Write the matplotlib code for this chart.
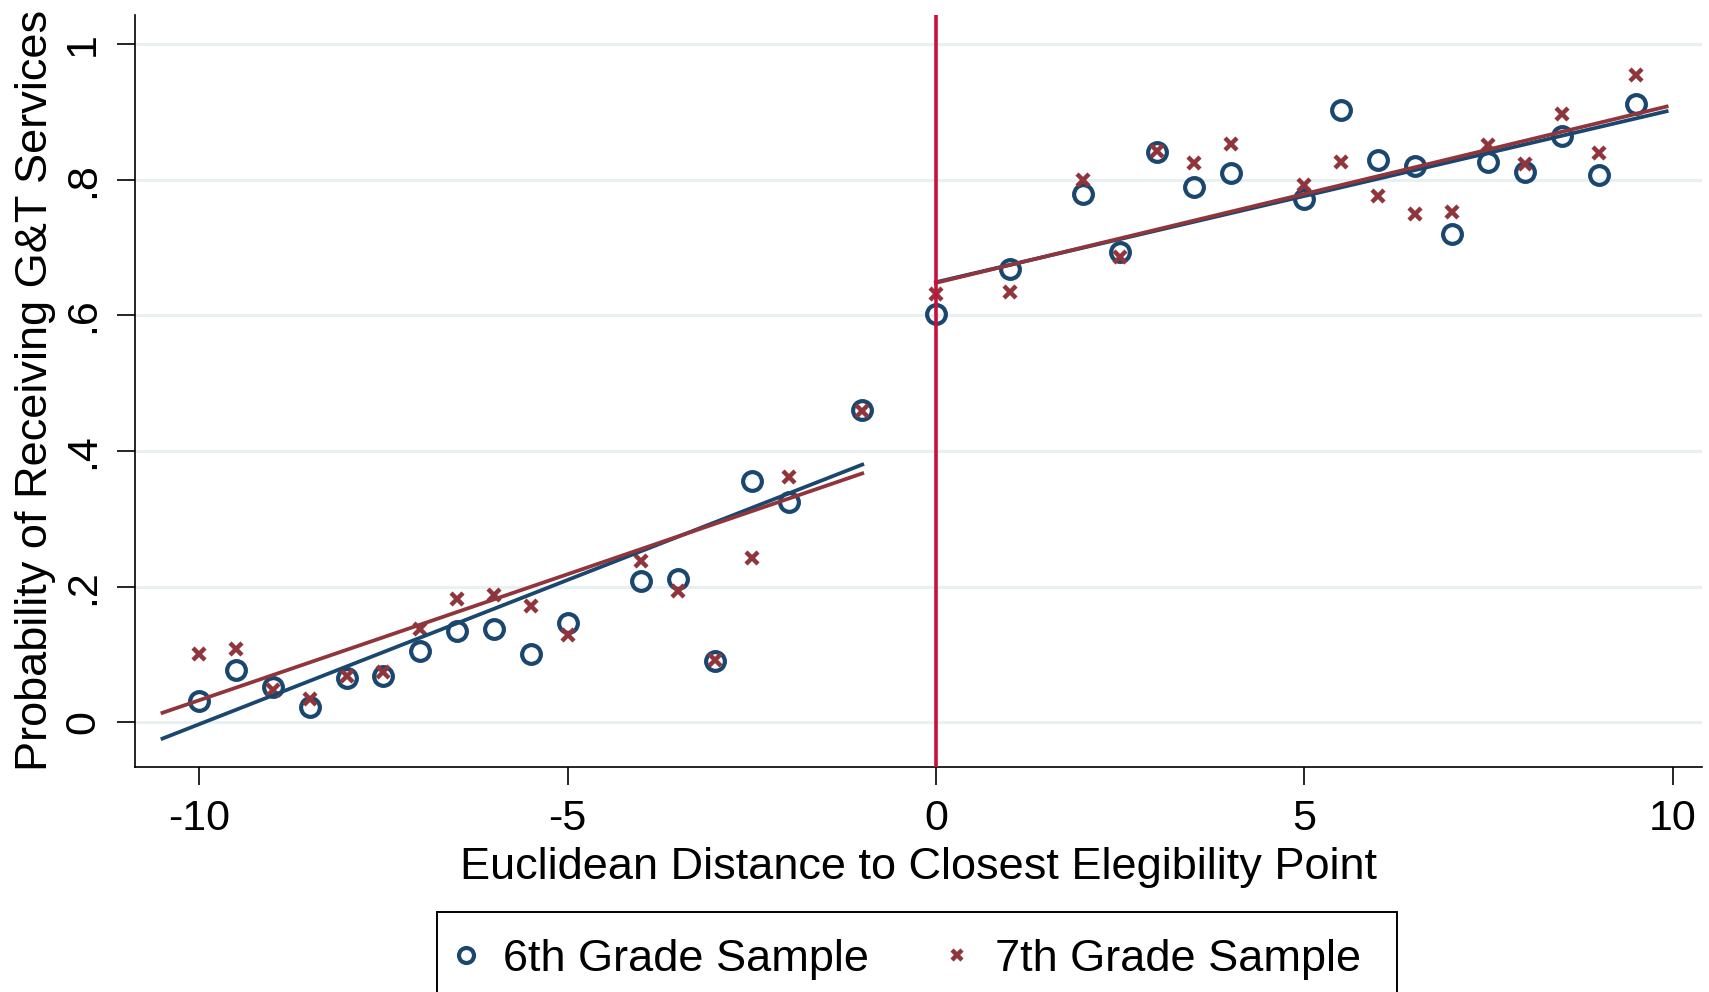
import numpy as np
import matplotlib.pyplot as plt
from matplotlib.patches import Rectangle

plt.rcParams['font.family'] = ['Liberation Sans', 'DejaVu Sans']

# binned means by distance to the cutoff
dist6 = [-10, -9.5, -9, -8.5, -8, -7.5, -7, -6.5, -6, -5.5, -5, -4, -3.5, -3, -2.5, -2, -1,
         0, 1, 2, 2.5, 3, 3.5, 4, 5, 5.5, 6, 6.5, 7, 7.5, 8, 8.5, 9, 9.5]
prob6 = [0.032, 0.077, 0.052, 0.023, 0.066, 0.068, 0.105, 0.135, 0.138, 0.100, 0.147,
         0.209, 0.211, 0.090, 0.356, 0.325, 0.461,
         0.602, 0.668, 0.779, 0.694, 0.841, 0.789, 0.810, 0.771, 0.903, 0.829, 0.821,
         0.720, 0.826, 0.812, 0.865, 0.807, 0.911]

dist7 = dist6
prob7 = [0.101, 0.108, 0.048, 0.035, 0.068, 0.074, 0.137, 0.182, 0.188, 0.171, 0.129,
         0.238, 0.193, 0.092, 0.242, 0.362, 0.459,
         0.631, 0.634, 0.799, 0.686, 0.842, 0.824, 0.853, 0.792, 0.826, 0.776, 0.750,
         0.752, 0.852, 0.823, 0.897, 0.839, 0.955]

# linear fits on each side of the cutoff (end points)
fit_x_left = [-10.5, -1.0]
fit_x_right = [0.0, 9.92]
fit6_left = [-0.024, 0.380]
fit7_left = [0.014, 0.367]
fit6_right = [0.649, 0.901]
fit7_right = [0.648, 0.908]

navy = '#1a476f'
maroon = '#90353b'
cutoff_red = '#c8103c'

fig = plt.figure(figsize=(17.09, 9.92), dpi=100)
ax = fig.add_axes([0.079, 0.2271, 0.9169, 0.7578])

ax.set_xlim(-10.873, 10.40)
ax.set_ylim(-0.0655, 1.043)

yticks = [0, 0.2, 0.4, 0.6, 0.8, 1]
for yt in yticks:
    ax.axhline(yt, color='#e8f0f2', lw=2.2, zorder=0)

ax.plot(dist6, prob6, 'o', mfc='none', mec=navy, ms=13.5, mew=3.0, zorder=3,
        label='6th Grade Sample')
ax.plot(dist7, prob7, 'x', color=maroon, ms=9, mew=3.2, zorder=3,
        label='7th Grade Sample')

ax.plot(fit_x_left, fit6_left, '-', color=navy, lw=2.7, zorder=4)
ax.plot(fit_x_left, fit7_left, '-', color=maroon, lw=2.7, zorder=4)
ax.plot(fit_x_right, fit6_right, '-', color=navy, lw=2.7, zorder=4)
ax.plot(fit_x_right, fit7_right, '-', color=maroon, lw=2.7, zorder=4)

ax.axvline(0, color=cutoff_red, lw=2.6, zorder=5)

for s in ['top', 'right']:
    ax.spines[s].set_visible(False)
for s in ['left', 'bottom']:
    ax.spines[s].set_linewidth(1.2)

ax.set_xticks([-10, -5, 0, 5, 10])
ax.set_xticklabels(['-10', '-5', '0', '5', '10'])
ax.set_yticks(yticks)
ax.set_yticklabels(['0', '.2', '.4', '.6', '.8', '1'], rotation=90, va='center')
ax.tick_params(axis='both', length=13, width=1.2, labelsize=31)
ax.tick_params(axis='x', pad=10)
ax.tick_params(axis='y', pad=10)

ax.set_xlabel('Euclidean Distance to Closest Elegibility Point', fontsize=32.5, labelpad=6)
ax.set_ylabel('Probability of Receiving G&T Services', fontsize=32.5, labelpad=5)

# legend box runs off the bottom edge, so draw the frame separately
fig.patches.append(Rectangle((0.2557, -0.05), 0.5617, 0.1306, transform=fig.transFigure,
                             fill=False, edgecolor='black', lw=1.4))
leg = fig.legend(loc='center left', bbox_to_anchor=(0.2637, 0.0330), ncol=2,
                 fontsize=32.5, frameon=False, handlelength=0.7,
                 handletextpad=0.47, columnspacing=1.6, borderpad=0,
                 borderaxespad=0, markerscale=0.8)

fig.savefig('out.png', dpi=100)
